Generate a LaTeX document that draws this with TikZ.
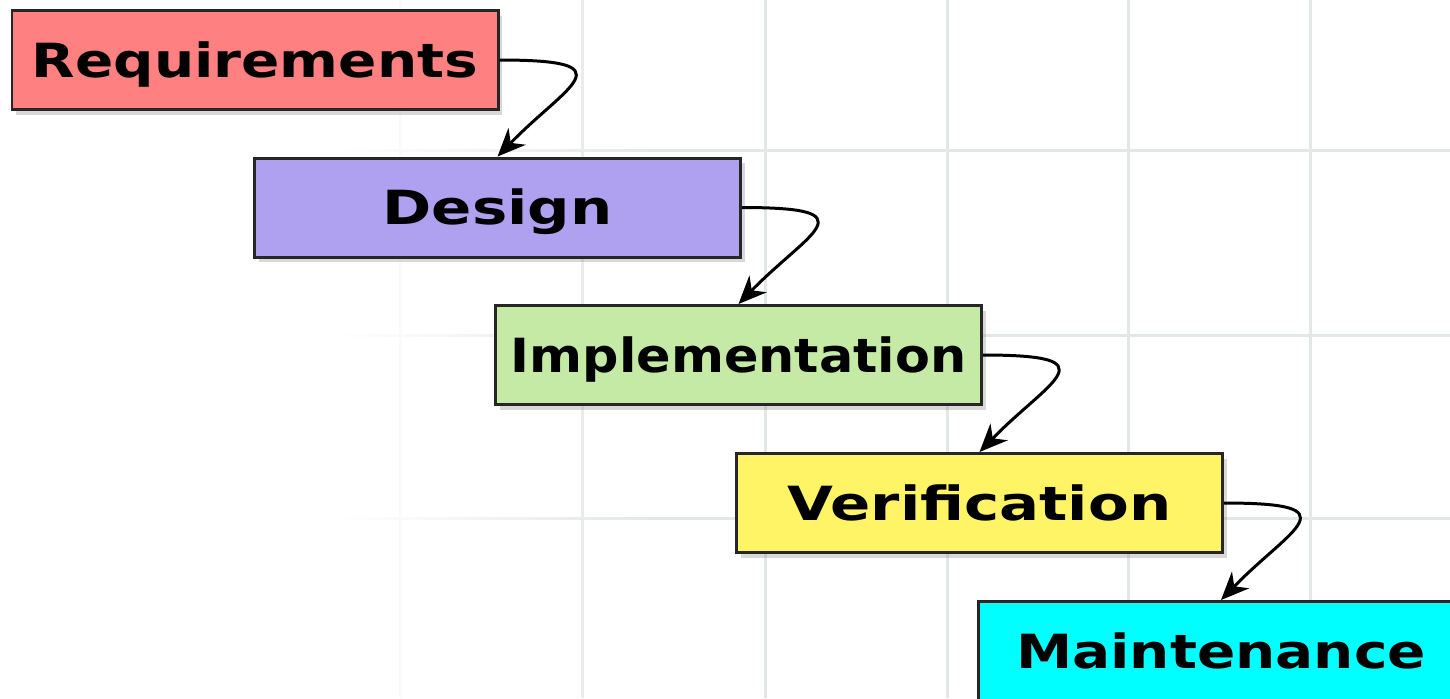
\documentclass[tikz,border=0pt]{standalone}
\usepackage{graphicx}
\usepackage{fontspec}
\setmainfont{DejaVu Sans}
\usetikzlibrary{arrows.meta, shadows, fadings}

\definecolor{reqred}{RGB}{255,128,128}
\definecolor{designlilac}{RGB}{176,160,240}
\definecolor{implgreen}{RGB}{196,234,166}
\definecolor{verifyellow}{RGB}{255,244,102}
\definecolor{maintcyan}{RGB}{0,255,255}
\definecolor{gridgray}{RGB}{228,231,231}

\tikzfading[name=gridfade, left color=transparent!0, right color=transparent!100]

\begin{document}
\begin{tikzpicture}[
  phase/.style={draw=black!85, line width=0.85pt, minimum width=4.86cm, minimum height=0.99cm,
    inner sep=0pt, text height=0.34cm, text depth=0pt,
    font=\fontsize{13.4pt}{16pt}\selectfont\bfseries,
    drop shadow={opacity=0.3, shadow xshift=0.04cm, shadow yshift=-0.05cm}},
  flow/.style={line width=0.85pt, -{Stealth[length=2.8mm, width=2.4mm, inset=0.9mm]}},
  gridline/.style={gridgray, line width=0.03cm}
]

\useasboundingbox (0,0) rectangle (14.5,-6.98);
\fill[white] (0,0) rectangle (14.5,-6.98);

% background grid, fading out to the left
\foreach \x in {2.18, 4.00, 5.82, 7.65, 9.47, 11.28, 13.10}
  \draw[gridline] (\x,0) -- (\x,-6.98);
\foreach \y in {-1.50, -3.35, -5.18}
  \draw[gridline] (0,\y) -- (14.5,\y);
\fill[white] (0,0) rectangle (3.4,-6.98);
\fill[white, path fading=gridfade] (3.4,0) rectangle (6.6,-6.98);

% phases
\node[phase, fill=reqred] (req) at (2.55,-0.60) {\scalebox{1.20}[1]{Requirements}};
\node[phase, fill=designlilac] (design) at (4.975,-2.075) {\scalebox{1.26}[1]{Design}};
\node[phase, fill=implgreen] (impl) at (7.385,-3.55) {\scalebox{1.08}[1]{Implementation}};
\node[phase, fill=verifyellow] (verif) at (9.795,-5.03) {\scalebox{1.26}[1]{Verification}};
\node[phase, fill=maintcyan] (maint) at (12.21,-6.51) {\scalebox{1.20}[1]{Maintenance}};

% hand-over arrows
\draw[flow] (req.east) .. controls +(1.3,0) and +(0.7,0.72) .. (design.north);
\draw[flow] (design.east) .. controls +(1.3,0) and +(0.7,0.72) .. (impl.north);
\draw[flow] (impl.east) .. controls +(1.3,0) and +(0.7,0.72) .. (verif.north);
\draw[flow] (verif.east) .. controls +(1.3,0) and +(0.7,0.72) .. (maint.north);

\end{tikzpicture}
\end{document}
